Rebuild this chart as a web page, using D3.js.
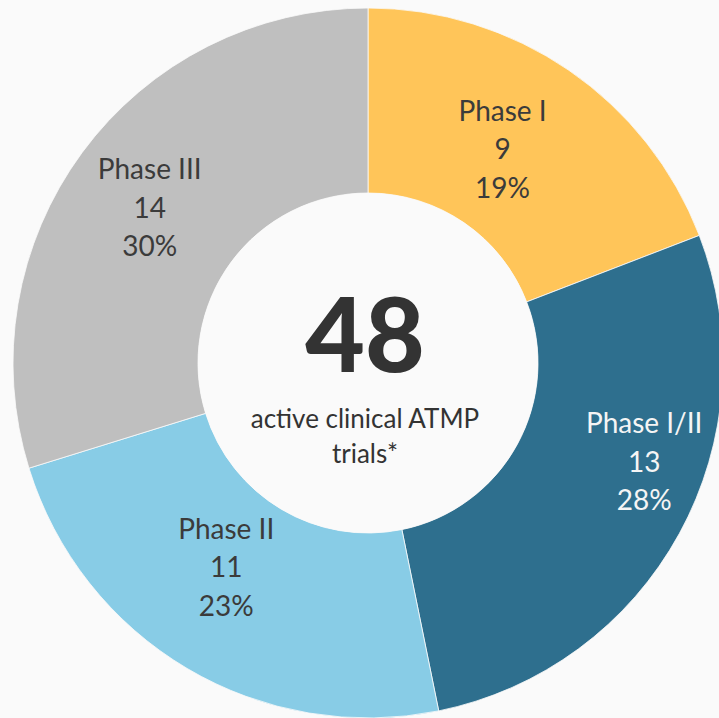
<!DOCTYPE html>
<html>
<head>
<meta charset="utf-8">
<script src="https://cdn.jsdelivr.net/npm/d3@7"></script>
<style>
  html, body { margin: 0; padding: 0; background: #fafafa; overflow: hidden; }
  svg { display: block; }
</style>
</head>
<body>
<svg id="chart" width="719" height="718"></svg>
<script>
// Trial phases and counts
const phases = ["Phase I", "Phase I/II", "Phase II", "Phase III"];
const counts = [9, 13, 11, 14];
const percentLabels = ["19%", "28%", "23%", "30%"];
const sliceColors = ["#FFC559", "#2E6F8E", "#88CCE6", "#BFBFBF"];
const labelColors = ["#3b3b3b", "#f5f5f5", "#3b3b3b", "#3b3b3b"];
const totalLabel = "48";
const subtitleLines = ["active clinical ATMP", "trials*"];

const width = 719, height = 718;
const cx = 368, cy = 363;
const outerR = 355, innerR = 170;

const svg = d3.select("#chart");
svg.append("rect").attr("width", width).attr("height", height).attr("fill", "#fafafa");

const g = svg.append("g").attr("transform", `translate(${cx},${cy})`);

const data = phases.map((p, i) => ({ phase: p, count: counts[i], pct: percentLabels[i], i }));

const pie = d3.pie().value(d => d.count).sort(null);
const arc = d3.arc().innerRadius(innerR).outerRadius(outerR);
const arcs = pie(data);

g.selectAll("path.slice")
  .data(arcs)
  .join("path")
  .attr("class", "slice")
  .attr("d", arc)
  .attr("fill", d => sliceColors[d.data.i])
  .attr("stroke", "#fafafa")
  .attr("stroke-width", 0.8);

// Inner disc
g.append("circle").attr("r", innerR).attr("fill", "#fafafa");

// Slice labels, nudged from the arc centroid
const nudges = [[-14, 3], [46, -27], [-8, -21], [-7, 1]];
const lineGap = 38.5;
const labelFont = "Lato, 'Open Sans', sans-serif";

arcs.forEach(d => {
  const [x, y] = arc.centroid(d);
  const [nx, ny] = nudges[d.data.i];
  const t = g.append("text")
    .attr("x", x + nx)
    .attr("y", y + ny)
    .attr("text-anchor", "middle")
    .attr("font-family", labelFont)
    .attr("font-size", 28)
    .attr("fill", labelColors[d.data.i]);
  const lines = [d.data.phase, String(d.data.count), d.data.pct];
  lines.forEach((s, k) => {
    t.append("tspan")
      .attr("x", x + nx)
      .attr("y", y + ny + (k - 1) * lineGap + 9.5)
      .text(s);
  });
});

// Centre total and caption
g.append("text")
  .attr("x", -3)
  .attr("y", 372 - cy)
  .attr("text-anchor", "middle")
  .attr("font-family", labelFont)
  .attr("font-weight", 900)
  .attr("font-size", 103)
  .attr("fill", "#333333")
  .text(totalLabel);

subtitleLines.forEach((s, k) => {
  g.append("text")
    .attr("x", -3)
    .attr("y", 428 - cy + k * 35)
    .attr("text-anchor", "middle")
    .attr("font-family", labelFont)
    .attr("font-size", 26)
    .attr("fill", "#333333")
    .text(s);
});
</script>
</body>
</html>
